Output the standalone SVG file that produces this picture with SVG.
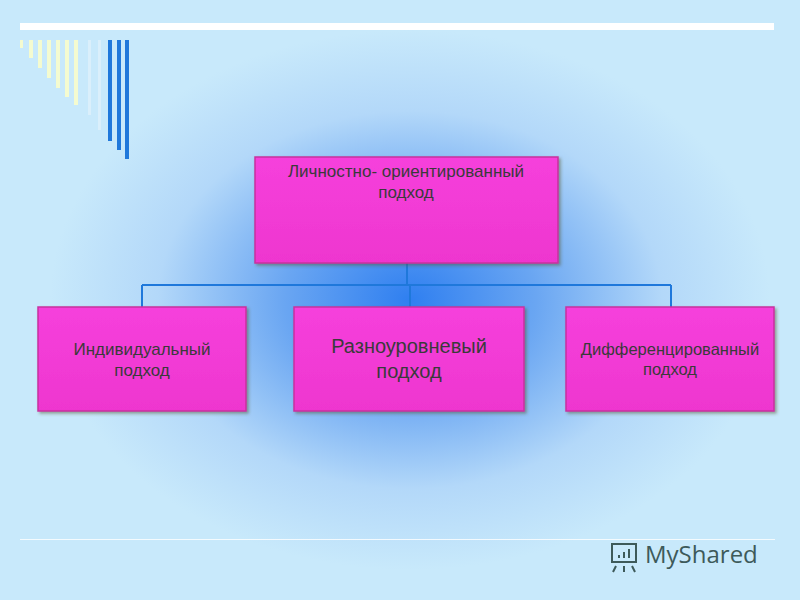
<svg xmlns="http://www.w3.org/2000/svg" width="800" height="600" viewBox="0 0 800 600">
<defs>
<radialGradient id="glow" cx="410" cy="300" r="360" gradientUnits="userSpaceOnUse" gradientTransform="translate(410 300) scale(1 0.75) translate(-410 -300)">
<stop offset="0" stop-color="#2f7ff0"/>
<stop offset="0.35" stop-color="#6aa6f2"/>
<stop offset="0.7" stop-color="#b3d8f9"/>
<stop offset="1" stop-color="#c8e9fb"/>
</radialGradient>
<linearGradient id="box" x1="0" y1="0" x2="0" y2="1">
<stop offset="0" stop-color="#f640dc"/>
<stop offset="1" stop-color="#ee36cf"/>
</linearGradient>
<filter id="sh" x="-10%" y="-10%" width="130%" height="130%"><feDropShadow dx="2" dy="2" stdDeviation="1.5" flood-color="#553" flood-opacity="0.5"/></filter>
</defs>
<style>
.node rect{fill:url(#box);stroke:#c8309e;stroke-width:1.5;filter:url(#sh)}
.node text{font-family:"Liberation Sans",Arial,sans-serif;fill:#3a3a3a;text-anchor:middle}
.yb{fill:#f4fbd0}.bb{fill:#1f78db}
#connectors path{fill:none;stroke:#1f78db;stroke-width:2}
</style>
<rect width="800" height="600" fill="#c8e9fb"/>
<rect width="800" height="600" fill="url(#glow)"/>
<rect x="20" y="23" width="754" height="7" fill="#ffffff"/>
<g id="stripes">
<rect class="yb" x="20" y="40" width="3" height="8"/>
<rect class="yb" x="29" y="40" width="4" height="18"/>
<rect class="yb" x="38" y="40" width="4" height="28"/>
<rect class="yb" x="47" y="40" width="4" height="38"/>
<rect class="yb" x="56" y="40" width="4" height="48"/>
<rect class="yb" x="65" y="40" width="4" height="57"/>
<rect class="yb" x="74" y="40" width="4" height="65"/>
<rect x="88" y="40" width="3" height="75" fill="#e6f4fc" opacity="0.6"/>
<rect x="98" y="40" width="3" height="90" fill="#e6f4fc" opacity="0.6"/>
<rect class="bb" x="108" y="40" width="4" height="101"/>
<rect class="bb" x="117" y="40" width="4" height="110"/>
<rect class="bb" x="125" y="40" width="4" height="119"/>
</g>
<g id="connectors">
<path d="M407 263 V285 M142 285 H671 M142 285 V307 M410 285 V307 M671 285 V307"/>
</g>
<g id="n1" class="node"><rect x="255" y="157" width="303" height="106"/>
<text x="406" y="177" font-size="17">Личностно- ориентированный</text>
<text x="406" y="198" font-size="17">подход</text></g>
<g id="n2" class="node"><rect x="38" y="307" width="208" height="104"/>
<text x="142" y="355" font-size="17">Индивидуальный</text>
<text x="142" y="376" font-size="17">подход</text></g>
<g id="n3" class="node"><rect x="294" y="307" width="230" height="104"/>
<text x="409" y="353" font-size="20">Разноуровневый</text>
<text x="409" y="378" font-size="20">подход</text></g>
<g id="n4" class="node"><rect x="566" y="307" width="208" height="104"/>
<text x="670" y="355" font-size="16.5">Дифференцированный</text>
<text x="670" y="375" font-size="16.5">подход</text></g>
<rect x="20" y="539" width="755" height="1" fill="#ffffff" opacity="0.8"/>
<g id="logo" fill="none" stroke="#3d5a5a" stroke-width="2">
<rect x="612" y="544" width="24" height="18" />
<path d="M616 566 L613 572 M624 566 V572 M632 566 L635 572"/>
<rect x="618" y="555" width="2" height="3" fill="#3d5a5a" stroke="none"/>
<rect x="623" y="552" width="2" height="6" fill="#3d5a5a" stroke="none"/>
<rect x="628" y="549" width="2" height="9" fill="#3d5a5a" stroke="none"/>
</g>
<text x="645" y="563" font-family="'Open Sans',sans-serif" font-size="24" fill="#3d5a5a">MyShared</text>
</svg>
